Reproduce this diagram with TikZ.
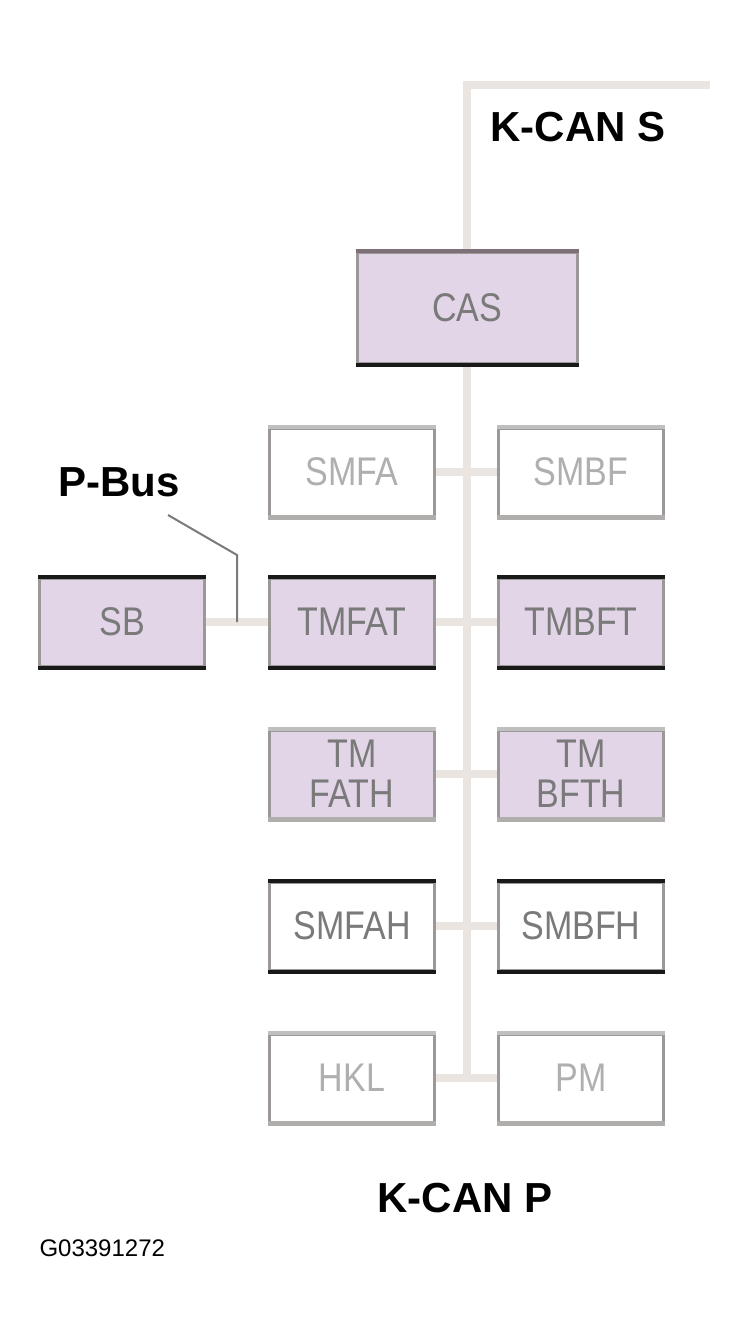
\documentclass[tikz,border=0pt]{standalone}
\usepackage{fontspec}
\setmainfont{Liberation Sans}
\newfontfamily\boxfont[FakeStretch=0.85]{Liberation Sans}
\usetikzlibrary{positioning}
\definecolor{busgray}{HTML}{EBE5E2}
\definecolor{ecufill}{HTML}{E1D5E7}
\definecolor{ecuedge}{HTML}{9C9898}
\definecolor{ecutext}{HTML}{7A7A7A}
\definecolor{castop}{HTML}{7E7078}
\tikzset{
  ecu/.style={draw=ecuedge, line width=3pt, fill=white, minimum width=165pt,
    minimum height=88pt, inner sep=0pt, text=ecutext, align=center,
    font=\boxfont\fontsize{40}{40}\selectfont},
  lilac/.style={ecu, fill=ecufill},
  bus/.style={busgray, line width=8pt},
  busname/.style={font=\bfseries\fontsize{42}{42}\selectfont},
}

\begin{document}
\begin{tikzpicture}[x=1pt,y=-1pt]
            \useasboundingbox (0,0) rectangle (749,1332);

            \node[busname, anchor=west] (kcans) at (487,127) {K-CAN S};
            \node[busname] (kcanp) at (465,1198) {K-CAN P};
            \node[busname] (pbus) at (119,482) {P-Bus};
            \node[font=\fontsize{24}{24}\selectfont, anchor=west] (fig) at (36,1248) {G03391272};

            \coordinate (kstop) at (710,85);
            \coordinate (kpend) at (467,1078);

            % modules
            \node[lilac, minimum width=220pt, minimum height=110pt] (cas) at (467,308) {CAS};
            \node[ecu, text=ecutext!60] (smfa) at (352,472) {SMFA};
            \node[ecu, text=ecutext!60] (smbf) at (581,472) {SMBF};
            \node[lilac] (sb) at (122,622) {SB};
            \node[lilac] (tmfat) at (352,622) {TMFAT};
            \node[lilac] (tmbft) at (581,622) {TMBFT};
            \node[lilac] (tmfath) at (352,774) {TM\\FATH};
            \node[lilac] (tmbfth) at (581,774) {TM\\BFTH};
            \node[ecu] (smfah) at (352,926) {SMFAH};
            \node[ecu] (smbfh) at (581,926) {SMBFH};
            \node[ecu, text=ecutext!60] (hkl) at (352,1078) {HKL};
            \node[ecu, text=ecutext!60] (pm) at (581,1078) {PM};

            % bus lines
            \draw[bus] (kstop) -| (cas.north);
            \draw[bus] (cas.south) -- (kpend);
            \draw[bus] (smfa) -- (smbf);
            \draw[bus] (tmfat) -- (tmbft);
            \draw[bus] (tmfath) -- (tmbfth);
            \draw[bus] (smfah) -- (smbfh);
            \draw[bus] (hkl) -- (pm);
            \draw[bus] (sb) -- (tmfat);

            % P-Bus leader
            \coordinate (pbstart) at (168,515);
            \coordinate (pbknee) at (237,555);
            \coordinate (pbtap) at (237,622);
            \draw[ecutext, line width=2pt] (pbstart) -- (pbknee) -- (pbtap);

            % dark edges
            \foreach \n in {cas,sb,tmfat,tmbft,smfah,smbfh}
                \draw[black!90, line width=4pt] (\n.south west) -- (\n.south east);
            \foreach \n in {sb,tmfat,tmbft,smfah,smbfh}
                \draw[black!90, line width=4pt] (\n.north west) -- (\n.north east);
            \draw[castop, line width=4pt] (cas.north west) -- (cas.north east);
            \foreach \n in {smfa,smbf,tmfath,tmbfth,hkl,pm}
                \draw[black!25, line width=4pt] (\n.north west) -- (\n.north east);
            \foreach \n in {smfa,smbf,tmfath,tmbfth,hkl,pm}
                \draw[ecuedge!80, line width=5pt] (\n.south west) -- (\n.south east);

        \end{tikzpicture}
\end{document}
